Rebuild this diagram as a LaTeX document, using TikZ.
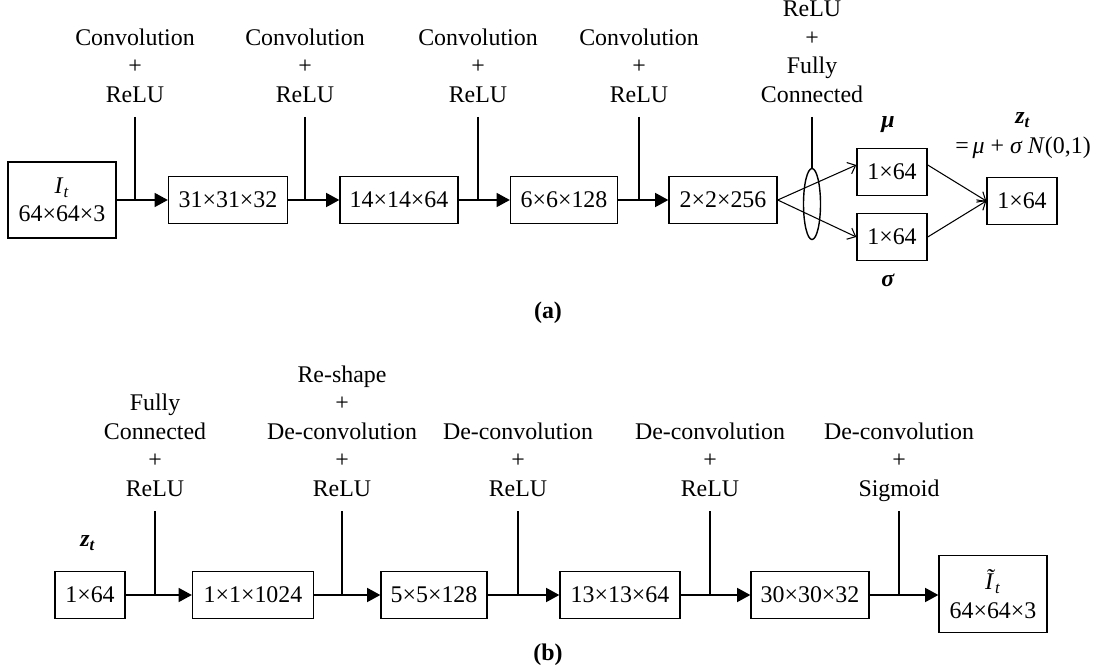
\documentclass[tikz,border=0pt]{standalone}
\usepackage{fontspec}
\setmainfont{Liberation Serif}
\usetikzlibrary{positioning,arrows.meta,shapes.geometric}

\begin{document}
\begin{tikzpicture}[x=0.02cm,y=-0.02cm,
        font=\fontsize{13.6}{16.2}\selectfont,
        line width=0.8pt,
        blockbox/.style={draw, inner sep=0pt, minimum height=0.93cm, align=center},
        oplabel/.style={align=center, anchor=south, inner xsep=0pt, inner ysep=8pt, text depth=0pt},
        flowarrow/.style={-{Triangle[length=7.5pt,width=8pt]}},
        splitarrow/.style={-{Straight Barb[length=4pt,width=7pt]}, line width=0.6pt}]

        \useasboundingbox (0,0) rectangle (1099,672);

        % (a) encoder
        \node[blockbox, minimum width=2.16cm, minimum height=1.52cm] (in) at (62,200) {\textit{I}\textsubscript{\textit{t}}\\64×64×3};
        \node[blockbox, minimum width=2.38cm] (c1) at (228,200) {31×31×32};
        \node[blockbox, minimum width=2.36cm] (c2) at (399,200) {14×14×64};
        \node[blockbox, minimum width=2.14cm] (c3) at (564,200) {6×6×128};
        \node[blockbox, minimum width=2.16cm] (c4) at (723,200) {2×2×256};
        \node[blockbox, minimum width=1.4cm] (mu) at (892,172) {1×64};
        \node[blockbox, minimum width=1.4cm] (sigma) at (892,237) {1×64};
        \node[blockbox, minimum width=1.4cm] (z) at (1022,201) {1×64};

        \node[oplabel] (op1) at (135,117) {Convolution\\+\\ReLU};
        \node[oplabel] (op2) at (305,117) {Convolution\\+\\ReLU};
        \node[oplabel] (op3) at (478,117) {Convolution\\+\\ReLU};
        \node[oplabel] (op4) at (639,117) {Convolution\\+\\ReLU};
        \node[oplabel] (op5) at (812,117) {ReLU\\+\\Fully\\Connected};

        \node[draw, ellipse, inner sep=0pt, minimum width=0.34cm, minimum height=1.42cm] (fc) at (812,204) {};

        \node (mulbl) at (888,125) {\textbf{\textit{μ}}};
        \node (sigmalbl) at (888,280) {\textbf{\textit{σ}}};
        \node (zlbl) at (1023,120) {\textbf{\textit{z}\textsubscript{\textit{t}}}};
        \node (zeq) at (1023,148) {=\,\textit{μ} + \textit{σ N}(0,1)};

        \draw[flowarrow] (in.east) -- (c1.west);
        \draw[flowarrow] (c1.east) -- (c2.west);
        \draw[flowarrow] (c2.east) -- (c3.west);
        \draw[flowarrow] (c3.east) -- (c4.west);
        \draw (op1.south) -- (op1.south |- in.east);
        \draw (op2.south) -- (op2.south |- c1.east);
        \draw (op3.south) -- (op3.south |- c2.east);
        \draw (op4.south) -- (op4.south |- c3.east);
        \draw (op5.south) -- (fc.north);

        \draw[splitarrow] (c4.east) -- ([yshift=4pt]mu.west);
        \draw[splitarrow] (c4.east) -- (sigma.west);
        \draw[splitarrow] ([yshift=4pt]mu.east) -- (z.west);
        \draw[splitarrow] (sigma.east) -- (z.west);

        \node[font=\fontsize{13.6}{16.2}\selectfont\bfseries] (capa) at (548,313) {(a)};

        % (b) decoder
        \node[blockbox, minimum width=1.4cm] (zin) at (90,595) {1×64};
        \node[blockbox, minimum width=2.42cm] (d1) at (253,595) {1×1×1024};
        \node[blockbox, minimum width=2.12cm] (d2) at (434,595) {5×5×128};
        \node[blockbox, minimum width=2.4cm] (d3) at (620,595) {13×13×64};
        \node[blockbox, minimum width=2.36cm] (d4) at (810,595) {30×30×32};
        \node[blockbox, minimum width=2.16cm, minimum height=1.54cm] (out) at (993,594) {\textit{Ĩ}\textsubscript{\textit{t}}\\64×64×3};

        \node (zinlbl) at (88,543) {\textbf{\textit{z}\textsubscript{\textit{t}}}};

        \node[oplabel] (up1) at (155,511) {Fully\\Connected\\+\\ReLU};
        \node[oplabel] (up2) at (342,511) {Re-shape\\+\\De-convolution\\+\\ReLU};
        \node[oplabel] (up3) at (518,511) {De-convolution\\+\\ReLU};
        \node[oplabel] (up4) at (710,511) {De-convolution\\+\\ReLU};
        \node[oplabel] (up5) at (899,511) {De-convolution\\+\\Sigmoid};

        \draw[flowarrow] (zin.east) -- (d1.west);
        \draw[flowarrow] (d1.east) -- (d2.west);
        \draw[flowarrow] (d2.east) -- (d3.west);
        \draw[flowarrow] (d3.east) -- (d4.west);
        \draw[flowarrow] (d4.east) -- (d4.east -| out.west);
        \draw (up1.south) -- (up1.south |- zin.east);
        \draw (up2.south) -- (up2.south |- d1.east);
        \draw (up3.south) -- (up3.south |- d2.east);
        \draw (up4.south) -- (up4.south |- d3.east);
        \draw (up5.south) -- (up5.south |- d4.east);

        \node[font=\fontsize{13.6}{16.2}\selectfont\bfseries] (capb) at (548,655) {(b)};

\end{tikzpicture}
\end{document}
